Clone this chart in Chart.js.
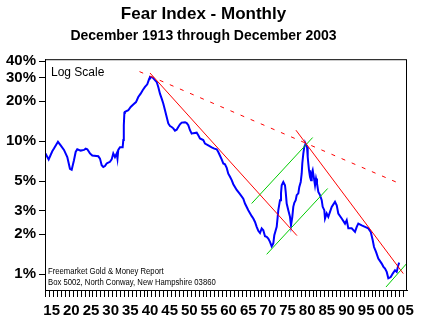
<!DOCTYPE html>
<html lang="en">
<head>
<meta charset="UTF-8">
<title>Fear Index - Monthly</title>
<script src="https://cdn.jsdelivr.net/npm/chart.js@4.4.0/dist/chart.umd.min.js"></script>
<style>
    html, body { margin: 0; padding: 0; background: #fff; }
    .wrap { width: 430px; height: 324px; position: relative; }
</style>
</head>
<body>
<div class="wrap"><canvas id="fearChart"></canvas></div>
<script>
// monthly fear index (year, percent)
var years = [1913.92, 1914.73, 1915.65, 1916.08, 1917.10, 1917.79, 1918.63, 1919.47, 1920.15, 1920.59,
    1921.17, 1921.60, 1922.01, 1922.88, 1923.72, 1924.15, 1924.56, 1925.24, 1925.83, 1927.36,
    1927.79, 1928.22, 1928.63, 1929.06, 1929.49, 1929.90, 1930.33, 1930.76, 1931.17, 1931.60,
    1932.04, 1932.24, 1932.44, 1932.88, 1933.56, 1933.72, 1933.85, 1934.00, 1934.15, 1934.99,
    1935.60, 1936.26, 1936.95, 1937.53, 1938.14, 1938.65, 1939.24, 1939.82, 1940.33, 1940.51,
    1941.20, 1941.78, 1942.22, 1942.62, 1943.05, 1943.49, 1943.89, 1944.33, 1944.76, 1945.17,
    1945.60, 1946.03, 1946.44, 1946.87, 1947.30, 1947.71, 1948.14, 1948.58, 1949.42, 1949.85,
    1950.26, 1950.69, 1951.12, 1951.53, 1952.39, 1952.80, 1953.23, 1954.07, 1954.51, 1955.34,
    1956.21, 1956.87, 1957.48, 1957.89, 1958.75, 1959.16, 1959.59, 1960.03, 1960.43, 1960.87,
    1961.30, 1961.71, 1962.57, 1963.41, 1964.25, 1964.68, 1965.52, 1966.39, 1966.80, 1967.23,
    1967.66, 1968.07, 1968.50, 1968.93, 1969.34, 1969.77, 1970.20, 1970.61, 1971.04, 1971.48,
    1971.88, 1972.14, 1972.50, 1972.75, 1973.00, 1973.16, 1973.59, 1973.84, 1974.02, 1974.43,
    1974.86, 1975.04, 1975.29, 1975.70, 1976.13, 1976.39, 1976.72, 1976.97, 1977.23, 1977.58,
    1977.84, 1978.25, 1978.50, 1978.86, 1979.11, 1979.26, 1979.52, 1979.77, 1979.95, 1980.08,
    1980.46, 1980.64, 1980.79, 1980.97, 1981.22, 1981.48, 1981.66, 1981.91, 1982.24, 1982.50,
    1982.75, 1983.00, 1983.34, 1983.77, 1984.20, 1984.45, 1984.86, 1985.04, 1985.47, 1985.88,
    1986.74, 1987.58, 1988.02, 1988.42, 1989.29, 1990.13, 1990.56, 1990.97, 1991.83, 1992.67,
    1993.11, 1993.51, 1994.38, 1995.22, 1996.06, 1996.67, 1997.18, 1997.51, 1998.02, 1998.60,
    1999.47, 1999.87, 2000.31, 2000.74, 2001.15, 2001.76, 2002.27, 2002.85, 2003.28, 2003.69,
    2003.92];
var fear = [8.1, 7.3, 8.4, 8.8, 9.9, 9.3, 8.6, 7.6, 6.2, 6.1,
    7.2, 8.3, 8.7, 8.5, 8.6, 8.8, 8.7, 8.1, 7.8, 7.7,
    7.4, 6.6, 6.4, 6.5, 6.8, 6.9, 7.0, 7.3, 8.1, 7.6,
    8.1, 7.4, 8.6, 9.0, 9.0, 10.2, 13.2, 16.4, 16.6, 17.1,
    18.1, 18.9, 19.7, 21.5, 22.8, 24.2, 25.6, 26.8, 29.6, 30.4,
    30.1, 28.8, 27.9, 25.6, 22.8, 20.9, 19.2, 17.1, 15.2, 13.6,
    13.0, 12.8, 12.5, 12.0, 12.2, 12.8, 13.4, 13.8, 13.9, 13.7,
    13.2, 12.1, 11.4, 11.5, 11.6, 11.1, 10.5, 10.2, 9.6, 9.3,
    9.0, 8.8, 8.7, 8.3, 7.3, 6.8, 6.7, 6.3, 5.7, 5.4,
    5.1, 4.75, 4.3, 4.0, 3.7, 3.4, 3.03, 2.73, 2.62, 2.47,
    2.27, 2.12, 2.04, 2.21, 2.14, 1.93, 1.91, 1.85, 1.75, 1.62,
    1.70, 1.96, 2.14, 2.27, 2.70, 3.03, 3.60, 4.05, 4.67, 4.94,
    4.67, 4.16, 3.40, 3.03, 2.70, 2.33, 2.70, 3.21, 3.44, 3.60,
    3.93, 4.05, 4.53, 4.94, 5.72, 6.80, 8.08, 9.06, 9.33, 9.6,
    9.06, 7.62, 6.80, 6.05, 5.39, 5.09, 5.72, 6.05, 5.24, 4.67,
    5.24, 4.81, 4.16, 3.93, 3.60, 3.21, 3.03, 2.62, 2.86, 2.70,
    3.21, 3.50, 3.30, 2.86, 2.62, 2.40, 2.55, 2.21, 2.21, 2.08,
    2.27, 2.40, 2.33, 2.27, 2.21, 2.08, 1.80, 1.60, 1.47, 1.31,
    1.20, 1.14, 1.10, 1.04, 0.93, 0.95, 1.01, 1.07, 1.04, 1.17,
    1.22];

// trend lines (start/end year, start/end percent)
var redFallX = [1940.51, 1977.9];
var redFallY = [32.6, 1.95];
var redFall2X = [1977.65, 2004.95];
var redFall2Y = [12.1, 1.01];
var redDashX = [1937.84, 2003.98];
var redDashY = [33.4, 4.81];
var greenUpX = [1966.38, 1981.9];
var greenUpY = [3.40, 10.66];
var greenLowX = [1970.2, 1985.72];
var greenLowY = [1.41, 4.41];
var greenEndX = [2000.55, 2005.9];
var greenEndY = [0.80, 1.21];

var yTicks = [1, 2, 3, 5, 10, 20, 30, 40];
var yearTicks = [];
for (var yr = 1914; yr <= 2005; yr++) yearTicks.push(yr);

var FONT = "'Liberation Sans', Arial, sans-serif";

function pts(xs, ys) {
    return xs.map(function (x, i) { return { x: x, y: ys[i] }; });
}
function trend(xs, ys, color, dash) {
    return {
        data: pts(xs, ys),
        borderColor: color,
        borderWidth: 1,
        borderDash: dash || [],
        pointRadius: 0,
        tension: 0,
        fill: false
    };
}

var notes = {
    id: 'notes',
    afterDraw: function (chart) {
        var c = chart.ctx, a = chart.chartArea;
        c.save();
        c.strokeStyle = '#000';
        c.lineWidth = 1;
        c.strokeRect(a.left + 0.5, a.top + 0.5, a.right - a.left - 1, a.bottom - a.top);
        c.fillStyle = '#000';
        c.textAlign = 'left';
        c.textBaseline = 'alphabetic';
        c.font = '12px ' + FONT;
        c.fillText('Log Scale', a.left + 6, a.top + 17);
        // small narrow print of the publisher lines
        c.translate(a.left + 3, a.bottom);
        c.scale(0.92, 1);
        c.font = '8.4px ' + FONT;
        c.fillText('Freemarket Gold & Money Report', 0, -16);
        c.fillText('Box 5002, North Conway, New Hampshire 03860', 0, -5);
        c.restore();
    }
};

var ctx = document.getElementById('fearChart').getContext('2d');
var fearChart = new Chart(ctx, {
    type: 'line',
    data: {
        datasets: [
            trend(redFallX, redFallY, '#ff0000'),
            trend(redFall2X, redFall2Y, '#ff0000'),
            trend(redDashX, redDashY, '#ff0000', [4, 7]),
            trend(greenUpX, greenUpY, '#00cc00'),
            trend(greenLowX, greenLowY, '#00cc00'),
            trend(greenEndX, greenEndY, '#00cc00'),
            {
                data: pts(years, fear),
                borderColor: '#0000ff',
                borderWidth: 2,
                pointRadius: 0,
                tension: 0,
                fill: false
            }
        ]
    },
    options: {
        animation: false,
        responsive: true,
        maintainAspectRatio: false,
        layout: { padding: { left: 0, right: 23, top: 0, bottom: 0 } },
        scales: {
            x: {
                type: 'linear',
                min: 1913.8,
                max: 2005.9,
                afterBuildTicks: function (s) {
                    s.ticks = yearTicks.map(function (v) { return { value: v }; });
                },
                afterFit: function (s) { s.height = 34; },
                ticks: {
                    autoSkip: false,
                    maxRotation: 0,
                    labelOffset: 2,
                    padding: 5,
                    color: '#000',
                    font: { family: FONT, size: 15, weight: 'bold' },
                    callback: function (v) { return v % 5 === 0 ? String(v).slice(2) : ''; }
                },
                grid: { drawOnChartArea: false, tickLength: 7, color: '#000' },
                border: { color: '#000' }
            },
            y: {
                type: 'logarithmic',
                min: 0.76,
                max: 41.4,
                afterBuildTicks: function (s) {
                    s.ticks = yTicks.map(function (v) { return { value: v }; });
                },
                afterFit: function (s) { s.width = 45; },
                ticks: {
                    padding: 3,
                    color: '#000',
                    font: { family: FONT, size: 15, weight: 'bold' },
                    callback: function (v) { return v + '%'; }
                },
                grid: { drawOnChartArea: false, tickLength: 6, color: '#000' },
                border: { color: '#000' }
            }
        },
        plugins: {
            legend: { display: false },
            tooltip: { enabled: false },
            title: {
                display: true,
                text: 'Fear Index - Monthly',
                color: '#000',
                font: { family: FONT, size: 17, weight: 'bold' },
                padding: { top: 4, bottom: 2 }
            },
            subtitle: {
                display: true,
                text: 'December 1913 through December 2003',
                color: '#000',
                font: { family: FONT, size: 14, weight: 'bold' },
                padding: { top: 1, bottom: 15 }
            }
        }
    },
    plugins: [notes]
});
</script>
</body>
</html>
